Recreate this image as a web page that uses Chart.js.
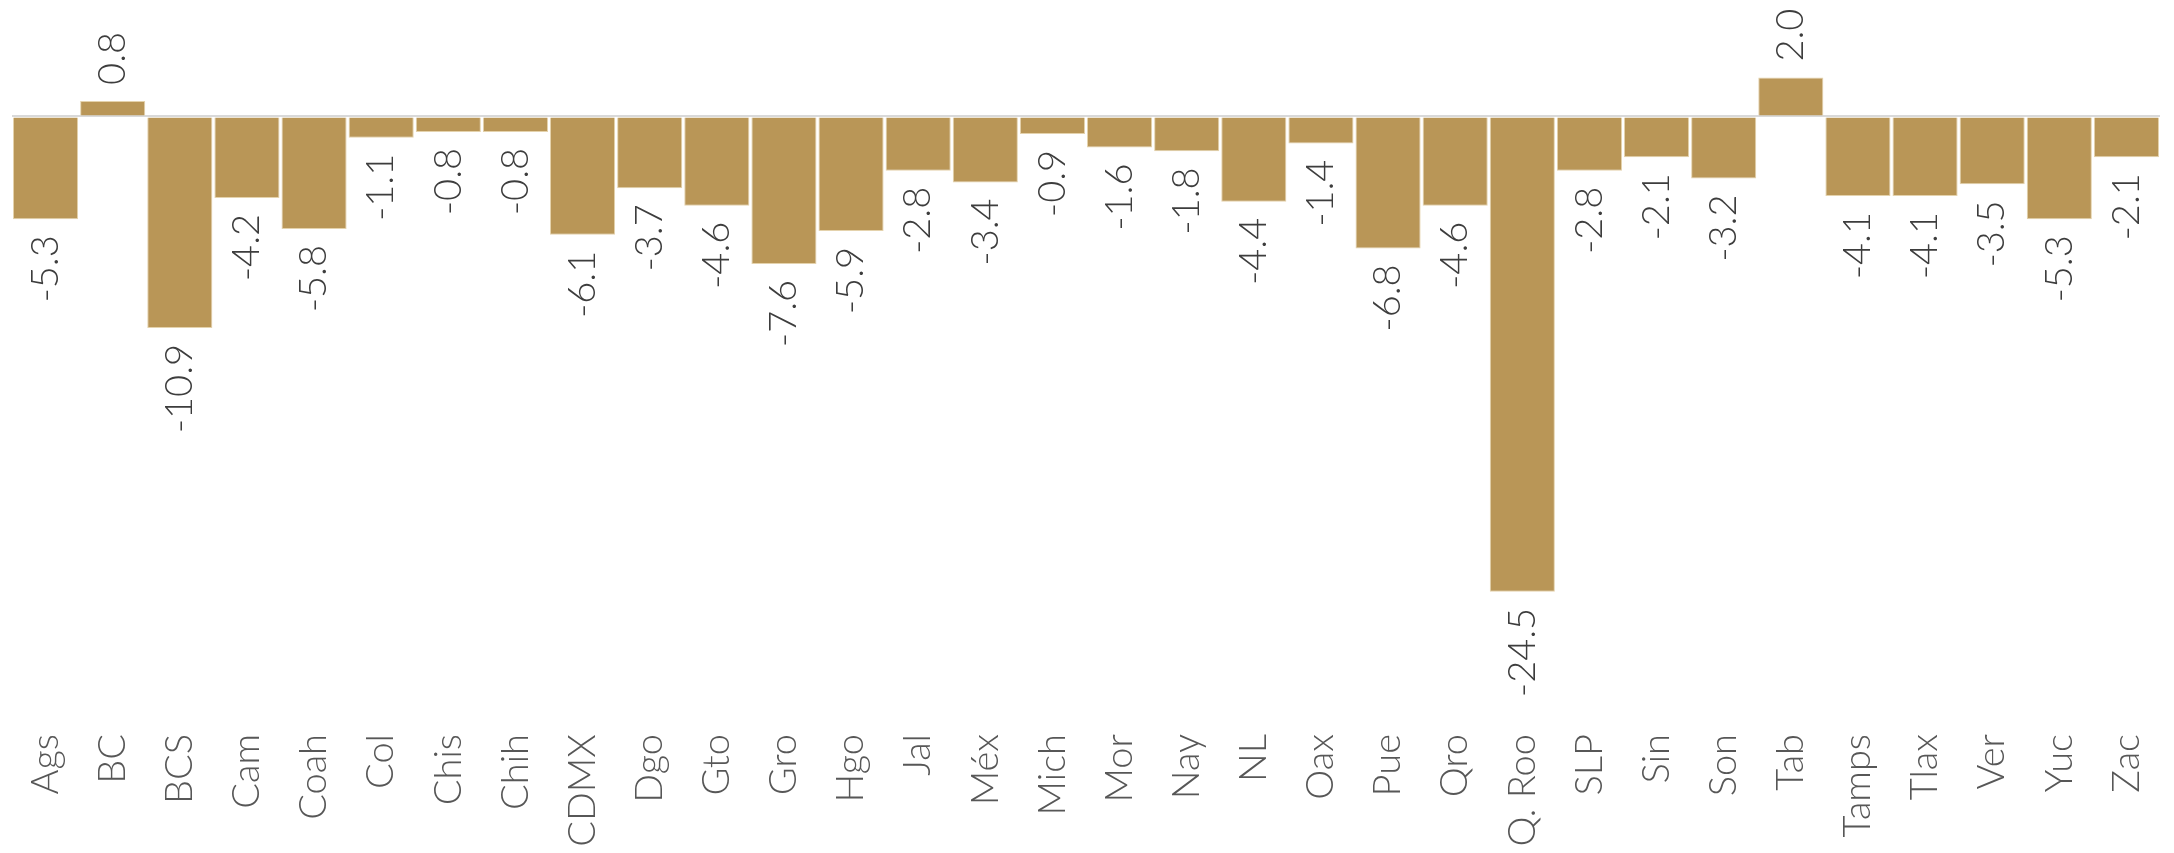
<!DOCTYPE html>
<html lang="es">
<head>
<meta charset="utf-8">
<title>Variación por entidad</title>
<script src="https://cdn.jsdelivr.net/npm/chart.js@4/dist/chart.umd.min.js"></script>
<style>
    html, body { margin: 0; padding: 0; background: #ffffff; }
    #contenedor { width: 2174px; height: 853px; }
</style>
</head>
<body>
<div id="contenedor"><canvas id="graficoEntidades" width="2174" height="853"></canvas></div>
<script>
// Entidades (eje X)
const entidades = ["Ags", "BC", "BCS", "Cam", "Coah", "Col", "Chis", "Chih", "CDMX", "Dgo",
    "Gto", "Gro", "Hgo", "Jal", "Méx", "Mich", "Mor", "Nay", "NL", "Oax",
    "Pue", "Qro", "Q. Roo", "SLP", "Sin", "Son", "Tab", "Tamps", "Tlax", "Ver",
    "Yuc", "Zac"];

// Variación de cada entidad
const variacion = [-5.3, 0.8, -10.9, -4.2, -5.8, -1.1, -0.8, -0.8, -6.1, -3.7,
    -4.6, -7.6, -5.9, -2.8, -3.4, -0.9, -1.6, -1.8, -4.4, -1.4,
    -6.8, -4.6, -24.5, -2.8, -2.1, -3.2, 2.0, -4.1, -4.1, -3.5,
    -5.3, -2.1];

// Rango del eje Y
const limiteInferior = -31;
const limiteSuperior = 6;

const FUENTE = "Lato, 'Noto Sans', sans-serif";

// Plugin para escribir el valor de cada barra, girado
const etiquetasValor = {
    id: "etiquetasValor",
    afterDatasetsDraw(chart) {
        const ctx = chart.ctx;
        const meta = chart.getDatasetMeta(0);
        ctx.save();
        ctx.font = "300 38px " + FUENTE;
        ctx.fillStyle = "#3d3d3d";
        ctx.textBaseline = "middle";
        meta.data.forEach((barra, i) => {
            const valor = variacion[i];
            ctx.save();
            if (valor < 0) {
                ctx.translate(barra.x, barra.y + 16);
                ctx.rotate(-Math.PI / 2);
                ctx.textAlign = "right";
            } else {
                ctx.translate(barra.x, barra.y - 16);
                ctx.rotate(-Math.PI / 2);
                ctx.textAlign = "left";
            }
            ctx.fillText(valor.toFixed(1), 0, 0);
            ctx.restore();
        });
        ctx.restore();
    }
};

document.addEventListener("DOMContentLoaded", () => {
    const grafico = document.getElementById("graficoEntidades").getContext("2d");

    new Chart(grafico, {
        type: "bar",
        data: {
            labels: entidades,
            datasets: [{
                data: variacion,
                backgroundColor: "#b99657",
                borderColor: "#e4d2ac",
                borderWidth: 1,
                barPercentage: 1,
                categoryPercentage: 0.97
            }]
        },
        options: {
            responsive: false,
            animation: false,
            layout: { padding: { left: 12, right: 14, top: 0, bottom: 0 } },
            plugins: {
                legend: { display: false },
                tooltip: { enabled: false }
            },
            scales: {
                x: {
                    grid: { display: false },
                    border: { display: false },
                    ticks: {
                        color: "#575757",
                        font: { family: FUENTE, size: 38, weight: 300 },
                        minRotation: 90,
                        maxRotation: 90,
                        autoSkip: false,
                        padding: 8
                    },
                    afterFit: escala => {
                        escala.height = 135;
                        // sin relleno extra a los lados por las etiquetas giradas
                        escala.paddingLeft = 0;
                        escala.paddingRight = 0;
                    }
                },
                y: {
                    min: limiteInferior,
                    max: limiteSuperior,
                    border: { display: false },
                    grid: {
                        drawTicks: false,
                        lineWidth: 2,
                        color: c => c.tick.value === 0 ? "#d9d9d9" : "rgba(0,0,0,0)"
                    },
                    ticks: { display: false, stepSize: 1 },
                    afterFit: escala => { escala.width = 0; }
                }
            }
        },
        plugins: [etiquetasValor]
    });
});
</script>
</body>
</html>
